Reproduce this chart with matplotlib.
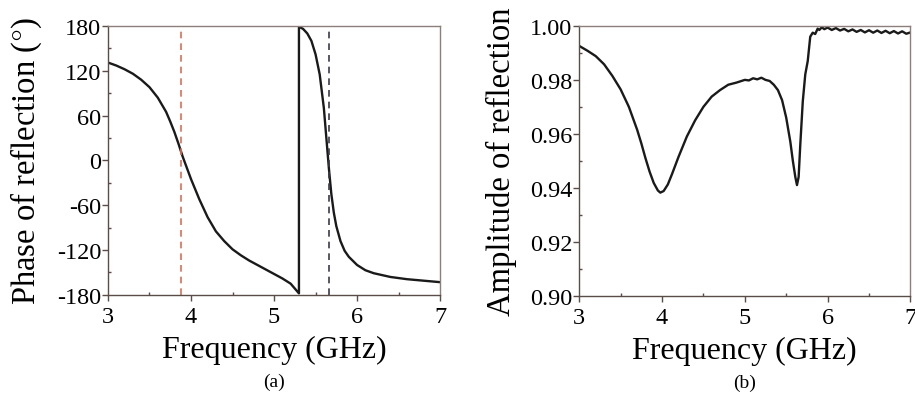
import matplotlib
matplotlib.use('Agg')
import matplotlib.pyplot as plt
from matplotlib.ticker import MultipleLocator

plt.rcParams['font.family'] = ['Liberation Serif', 'DejaVu Serif']
plt.rcParams['mathtext.fontset'] = 'stix'
plt.rcParams['axes.unicode_minus'] = False

# (a) 反射相位，读图估计
phase_freq = [3.0, 3.1, 3.2, 3.3, 3.4, 3.5, 3.6, 3.7, 3.75, 3.8, 3.85, 3.9, 3.95, 4.0,
              4.1, 4.2, 4.3, 4.4, 4.5, 4.6, 4.7, 4.8, 4.9, 5.0, 5.1, 5.2, 5.3,
              5.3, 5.35, 5.4, 5.45, 5.5, 5.55, 5.6, 5.63, 5.66, 5.69, 5.72, 5.75,
              5.8, 5.85, 5.9, 6.0, 6.1, 6.2, 6.4, 6.6, 6.8, 7.0]
phase_deg = [131, 127, 122, 116, 108, 98, 84, 65, 52, 38, 22, 5, -10, -25,
             -52, -76, -95, -108, -119, -127, -134, -140, -146, -152, -158, -165, -178,
             179, 176, 170, 160, 142, 115, 70, 30, -10, -45, -70, -88,
             -108, -121, -129, -140, -147, -151, -156, -159, -161, -163]

# (b) 反射幅度
amp_freq = [3.0, 3.1, 3.2, 3.3, 3.4, 3.5, 3.6, 3.7, 3.75, 3.8, 3.85, 3.9, 3.95, 3.98,
            4.02, 4.07, 4.12, 4.2, 4.3, 4.4, 4.5, 4.6, 4.7, 4.8, 4.9, 5.0, 5.05,
            5.1, 5.15, 5.2, 5.25, 5.3, 5.35, 5.4, 5.45, 5.5, 5.55, 5.58, 5.61, 5.63,
            5.65, 5.67, 5.7, 5.73, 5.76, 5.79, 5.82, 5.85, 5.88, 5.9, 5.93, 5.96,
            6.0, 6.05, 6.1, 6.15, 6.2, 6.25, 6.3, 6.35, 6.4, 6.45, 6.5, 6.55, 6.6,
            6.65, 6.7, 6.75, 6.8, 6.85, 6.9, 6.95, 7.0]
amp_val = [0.9926, 0.9908, 0.9888, 0.9858, 0.9815, 0.9765, 0.9700, 0.9615, 0.9565, 0.9510,
           0.9460, 0.9418, 0.9390, 0.9382, 0.9388, 0.9412, 0.9450, 0.9515, 0.9590, 0.9650,
           0.9700, 0.9738, 0.9762, 0.9782, 0.9790, 0.9800, 0.9798, 0.9806, 0.9802, 0.9808,
           0.9800, 0.9796, 0.9782, 0.9762, 0.9725, 0.9660, 0.9570, 0.9500, 0.9440, 0.9410,
           0.9440, 0.9560, 0.9720, 0.9820, 0.9870, 0.9960, 0.9975, 0.9970, 0.9990, 0.9985,
           0.9995, 0.9988, 0.9994, 0.9985, 0.9992, 0.9983, 0.9989, 0.9980, 0.9987, 0.9978,
           0.9985, 0.9976, 0.9984, 0.9975, 0.9983, 0.9974, 0.9982, 0.9973, 0.9981, 0.9972,
           0.9980, 0.9971, 0.9976]

red_line = 3.88
dark_line = 5.66

spine_color = '#5a4d48'
fig = plt.figure(figsize=(9.15, 4.02), dpi=100)
ax1 = fig.add_axes([0.118, 0.264, 0.363, 0.669])
ax2 = fig.add_axes([0.633, 0.262, 0.362, 0.671])


def style(ax):
    for s in ax.spines.values():
        s.set_color(spine_color)
        s.set_linewidth(1.0)
    ax.spines['top'].set_color('#8a7f7a')
    ax.spines['right'].set_color('#8a7f7a')
    ax.tick_params(which='major', direction='out', length=4, width=1,
                   color=spine_color, labelsize=17.5, pad=1)
    ax.tick_params(axis='x', which='major', pad=4)
    ax.tick_params(which='minor', direction='in', length=2.5, width=1,
                   color=spine_color)
    ax.set_xlabel('Frequency (GHz)', fontsize=23, labelpad=6)


ax1.plot(phase_freq, phase_deg, color='#1a1a1a', lw=1.7)
ax1.axvline(red_line, color='#d8705a', ls=(0, (4, 3)), lw=1.2)
ax1.axvline(dark_line, color='#3a3a4a', ls=(0, (4, 3)), lw=1.2)
ax1.set_xlim(3, 7)
ax1.set_ylim(-180, 180)
ax1.xaxis.set_major_locator(MultipleLocator(1))
ax1.xaxis.set_minor_locator(MultipleLocator(0.5))
ax1.yaxis.set_major_locator(MultipleLocator(60))
ax1.yaxis.set_minor_locator(MultipleLocator(30))
style(ax1)
ax1.set_ylabel('Phase of reflection ($\\degree$)', fontsize=23.5, labelpad=9)
ax1.text(0.5, -0.323, '(a)', transform=ax1.transAxes, ha='center', va='center',
         fontsize=14)

ax2.plot(amp_freq, amp_val, color='#1a1a1a', lw=1.7)
ax2.set_xlim(3, 7)
ax2.set_ylim(0.90, 1.00)
ax2.xaxis.set_major_locator(MultipleLocator(1))
ax2.xaxis.set_minor_locator(MultipleLocator(0.5))
ax2.yaxis.set_major_locator(MultipleLocator(0.02))
ax2.yaxis.set_minor_locator(MultipleLocator(0.01))
ax2.yaxis.set_major_formatter(plt.FormatStrFormatter('%.2f'))
style(ax2)
ax2.set_ylabel('Amplitude of reflection', fontsize=23.5, labelpad=9)
ax2.text(0.5, -0.323, '(b)', transform=ax2.transAxes, ha='center', va='center',
         fontsize=14)

fig.savefig('out.png', dpi=100)
